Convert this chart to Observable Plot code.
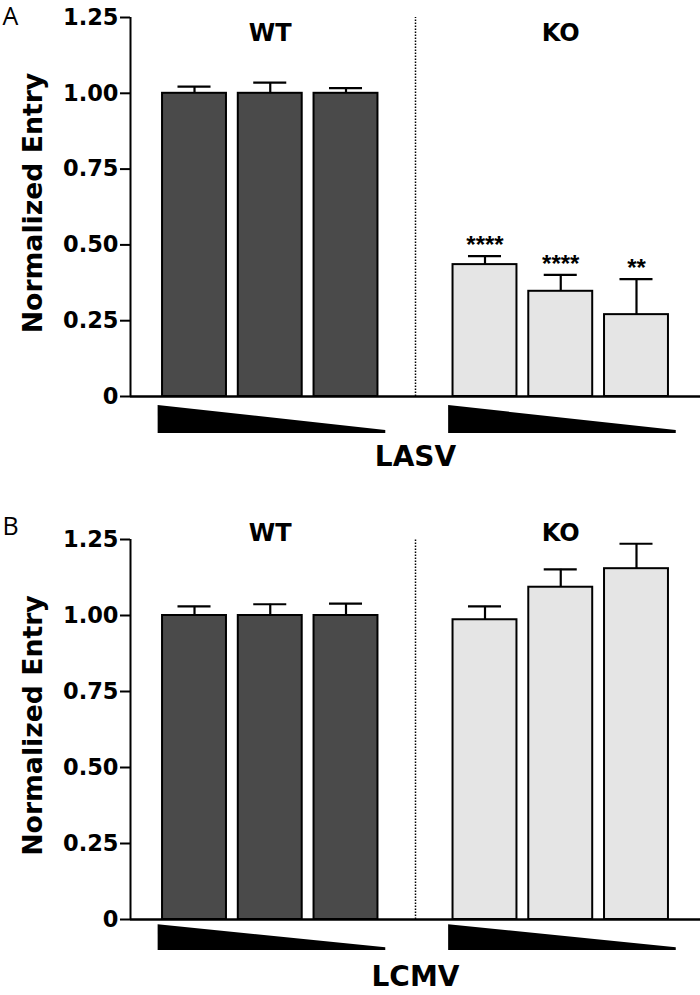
<!DOCTYPE html>
<html><head><meta charset="utf-8">
<script src="https://cdn.jsdelivr.net/npm/d3@7"></script>
<script src="https://cdn.jsdelivr.net/npm/@observablehq/plot@0.6"></script>
<style>
body{margin:0;background:#fff;}
#chart svg{display:block;}
</style>
</head><body><div id="chart"></div>
<script>
// ---- data ----
const groups = ["WT", "KO"];
const doses = ["high", "mid", "low"];
const lasvWT = [1.00, 1.00, 1.00];
const lasvWTErr = [0.022, 0.035, 0.017];
const lasvKO = [0.435, 0.347, 0.270];
const lasvKOErr = [0.028, 0.054, 0.117];
const lasvStars = ["****", "****", "**"];
const lcmvWT = [1.00, 1.00, 1.00];
const lcmvWTErr = [0.030, 0.037, 0.039];
const lcmvKO = [0.986, 1.093, 1.154];
const lcmvKOErr = [0.044, 0.059, 0.082];
const lcmvStars = ["", "", ""];
const yTicks = [0, 0.25, 0.5, 0.75, 1, 1.25];
const yTickLabels = ["0", "0.25", "0.50", "0.75", "1.00", "1.25"];
const yLabel = "Normalized Entry";

// ---- layout constants ----
const KO_OFFSET = 3.835, X_DOMAIN = [-0.845, 6.68], BAR_HALF = 0.422, CAP_HALF = 0.218;
const WEDGE_X = [-0.48, 2.525];

function rows(wt, wtErr, ko, koErr, stars) {
  const out = [];
  groups.forEach((g, gi) => {
    const vals = gi === 0 ? wt : ko, errs = gi === 0 ? wtErr : koErr;
    doses.forEach((d, di) => {
      out.push({group: g, dose: d, pos: di + gi * KO_OFFSET, value: vals[di],
        top: vals[di] + errs[di], star: gi === 1 ? stars[di] : ""});
    });
  });
  return out;
}

function panel({letter, virus, data, height, marginTop, marginBottom, groupDy, letterDy, virusDy, wedgeY}) {
  const centers = groups.map((g, gi) => ({group: g, pos: 1 + gi * KO_OFFSET}));
  const wedges = groups.flatMap((g, gi) => [
    {group: g, x: WEDGE_X[0] + gi * KO_OFFSET, y1: wedgeY[2], y2: wedgeY[0]},
    {group: g, x: WEDGE_X[1] + gi * KO_OFFSET, y1: wedgeY[2], y2: wedgeY[1]}
  ]);
  const sep = (2 + KO_OFFSET) / 2;
  return Plot.plot({
    width: 700, height, marginLeft: 130, marginRight: 0, marginTop, marginBottom,
    style: {fontFamily: "DejaVu Sans", fontWeight: "bold", background: "white", overflow: "visible", color: "black"},
    x: {type: "linear", domain: X_DOMAIN, axis: null},
    y: {domain: [0, 1.25], axis: null},
    color: {domain: groups, range: ["#4a4a4a", "#e5e5e5"]},
    marks: [
      Plot.ruleX([sep], {y1: 0, y2: 1.25, strokeWidth: 1.5, strokeDasharray: "1.5,1.5"}),
      Plot.rectY(data, {x1: d => d.pos - BAR_HALF, x2: d => d.pos + BAR_HALF, y1: 0, y2: "value",
        fill: "group", stroke: "black", strokeWidth: 2}),
      Plot.ruleX(data, {x: "pos", y1: "value", y2: "top", strokeWidth: 2.2}),
      Plot.ruleY(data, {y: "top", x1: d => d.pos - CAP_HALF, x2: d => d.pos + CAP_HALF, strokeWidth: 2.2}),
      Plot.text(data.filter(d => d.star), {x: "pos", y: "top", text: "star", dy: -11, fontSize: 24,
        fontFamily: "Liberation Sans"}),
      Plot.text(centers, {x: "pos", text: "group", frameAnchor: "top", lineAnchor: "top", dy: groupDy, fontSize: 24}),
      Plot.areaY(wedges, {x: "x", y1: "y1", y2: "y2", z: "group", fill: "black"}),
      Plot.axisY({ticks: yTicks, tickFormat: d => yTickLabels[yTicks.indexOf(d)], tickSize: 10,
        tickPadding: 2, fontSize: 22.5, strokeWidth: 2, label: null}),
      Plot.ruleX([X_DOMAIN[0]], {y1: 0, y2: 1.25, strokeWidth: 2}),
      Plot.ruleY([0], {strokeWidth: 2.5}),
      Plot.text([yLabel], {frameAnchor: "left", textAnchor: "middle", lineAnchor: "middle", rotate: -90,
        dx: -97, dy: -4, fontSize: 26.7}),
      Plot.text([letter], {frameAnchor: "top-left", textAnchor: "start", lineAnchor: "top", dx: -128, dy: letterDy,
        fontSize: 25, fontWeight: "normal", fontFamily: "Open Sans"}),
      Plot.text([virus], {frameAnchor: "bottom", lineAnchor: "bottom", dy: virusDy, fontSize: 28})
    ]
  });
}

const chart = document.getElementById("chart");
chart.append(panel({letter: "A", virus: "LASV", data: rows(lasvWT, lasvWTErr, lasvKO, lasvKOErr, lasvStars),
  height: 510, marginTop: 17, marginBottom: 114, groupDy: 6, letterDy: -10, virusDy: 69,
  wedgeY: [-0.030, -0.112, -0.122]}));
chart.append(panel({letter: "B", virus: "LCMV", data: rows(lcmvWT, lcmvWTErr, lcmvKO, lcmvKOErr, lcmvStars),
  height: 485, marginTop: 29, marginBottom: 76, groupDy: -16, letterDy: -22, virusDy: 66,
  wedgeY: [-0.017, -0.093, -0.102]}));
</script>
</body></html>
